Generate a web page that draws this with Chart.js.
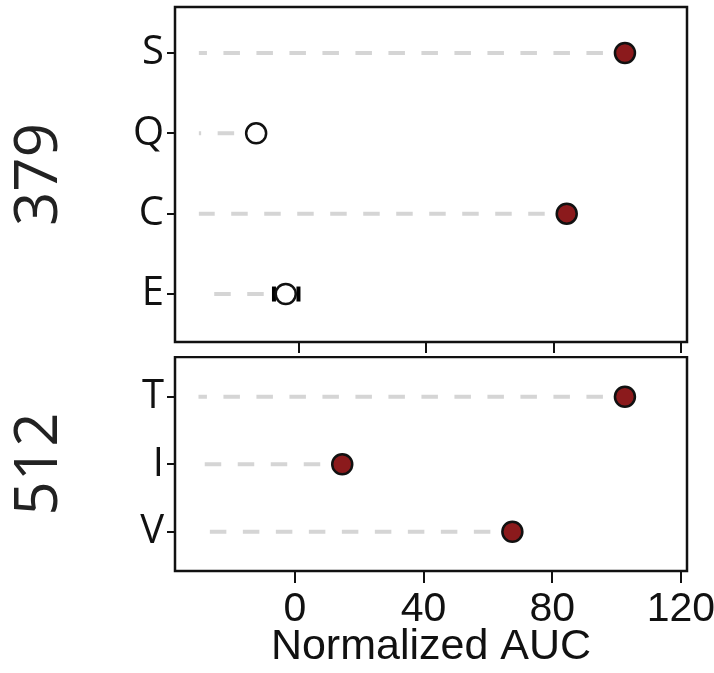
<!DOCTYPE html>
<html>
<head>
<meta charset="utf-8">
<title>Normalized AUC</title>
<script src="https://cdn.jsdelivr.net/npm/chart.js@4.4.1/dist/chart.umd.min.js"></script>
<style>
  body { margin: 0; background: #fff; }
  canvas { position: absolute; left: 0; }
  #panel379 { top: 0; }
  #panel512 { top: 356px; }
</style>
</head>
<body>
<canvas id="panel379" width="714" height="356"></canvas>
<canvas id="panel512" width="714" height="317"></canvas>
<script>
// position 379
const labels379 = ['S', 'Q', 'C', 'E'];
const auc379 = [102.4, -13.5, 84.1, -4.2];
const errLow379 = [null, null, null, -7.9];
const errHigh379 = [null, null, null, -0.2];
const filled379 = [true, false, true, false];

// position 512
const labels512 = ['T', 'I', 'V'];
const auc512 = [102.6, 14.7, 67.6];
const errLow512 = [null, null, null];
const errHigh512 = [null, null, null];
const filled512 = [true, true, true];

const xTicks = [0, 40, 80, 120];

const INK = '#111';
const RED = '#8b1a1c';

// box around the plotting area
const framePlugin = {
  id: 'frame',
  afterDraw(chart) {
    const { ctx, chartArea: a } = chart;
    ctx.save();
    ctx.strokeStyle = INK;
    ctx.lineWidth = 2.5;
    ctx.strokeRect(a.left, a.top, a.right - a.left, a.bottom - a.top);
    ctx.restore();
  }
};

// error bars drawn just before the markers so the circles sit on top
function errorBars(low, high) {
  return {
    id: 'errorBars',
    beforeDatasetDraw(chart, args) {
      if (args.index !== 0) return;
      const { ctx } = chart;
      const xs = chart.scales.x, ys = chart.scales.y;
      ctx.save();
      ctx.strokeStyle = '#000';
      low.forEach((lo, i) => {
        if (lo == null) return;
        const x0 = xs.getPixelForValue(lo);
        const x1 = xs.getPixelForValue(high[i]);
        const py = ys.getPixelForValue(i);
        ctx.lineWidth = 2.5;
        ctx.beginPath();
        ctx.moveTo(x0, py);
        ctx.lineTo(x1, py);
        ctx.stroke();
        ctx.lineWidth = 4;
        [x0, x1].forEach(px => {
          ctx.beginPath();
          ctx.moveTo(px, py - 7.5);
          ctx.lineTo(px, py + 7.5);
          ctx.stroke();
        });
      });
      ctx.restore();
    }
  };
}

// fixed axis sizes, and no extra room for half-labels at the ends
function fixWidth(w) {
  return s => {
    s.width = w;
    s.paddingTop = 0;
    s.paddingBottom = 0;
  };
}
function fixHeight(h) {
  return s => {
    s.height = h;
    s.paddingLeft = 0;
    s.paddingRight = 0;
  };
}

function buildPanel(id, p) {
  const markers = {
    data: p.values.map((v, i) => ({ x: v, y: i })),
    pointRadius: 10,
    pointHoverRadius: 10,
    pointBorderWidth: 2.5,
    pointBorderColor: INK,
    pointBackgroundColor: p.filled.map(f => f ? RED : '#fff'),
    order: 0
  };
  // dashed stems run from the marker back to the left
  const stems = p.values.map((v, i) => ({
    data: [{ x: v, y: i }, { x: p.stemStart, y: i }],
    showLine: true,
    borderColor: '#d5d5d5',
    borderWidth: 4,
    borderDash: [16.5, 16.5],
    borderDashOffset: 11,
    pointRadius: 0,
    order: 1
  }));

  return new Chart(document.getElementById(id), {
    type: 'scatter',
    data: { datasets: [markers, ...stems] },
    options: {
      responsive: false,
      animation: false,
      events: [],
      layout: { autoPadding: false, padding: { top: p.padTop, right: 27, bottom: 0, left: 0 } },
      plugins: { legend: { display: false }, tooltip: { enabled: false } },
      scales: {
        x: {
          type: 'linear',
          min: p.xMin,
          max: p.xMax,
          afterBuildTicks: s => { s.ticks = xTicks.map(v => ({ value: v })); },
          afterFit: fixHeight(p.xAxisHeight),
          border: { display: false },
          grid: { drawOnChartArea: false, color: INK, tickColor: INK, lineWidth: 2, tickLength: p.xTickLen },
          ticks: {
            display: p.showX,
            color: INK,
            padding: 2,
            font: { family: 'Liberation Sans, Arial, sans-serif', size: 41 },
            callback: v => String(v)
          },
          title: {
            display: p.showX,
            text: 'Normalized AUC',
            color: INK,
            padding: { top: 0, bottom: 0 },
            font: { family: 'Liberation Sans, Arial, sans-serif', size: 43 }
          }
        },
        y: {
          type: 'linear',
          reverse: true,
          min: p.yMin,
          max: p.yMax,
          afterBuildTicks: s => { s.ticks = p.labels.map((_, i) => ({ value: i })); },
          afterFit: fixWidth(175),
          border: { display: false },
          grid: { drawOnChartArea: false, color: INK, tickColor: INK, lineWidth: 2, tickLength: 8 },
          ticks: {
            color: INK,
            padding: 3,
            font: { family: 'Open Sans, sans-serif', size: 40 },
            callback: v => p.labels[v]
          },
          title: {
            display: true,
            text: p.group,
            color: '#222',
            padding: { top: 4, bottom: 0 },
            font: { family: 'Open Sans, sans-serif', size: 60 }
          }
        }
      }
    },
    plugins: [framePlugin, errorBars(p.errLow, p.errHigh)]
  });
}

buildPanel('panel379', {
  group: '379',
  labels: labels379,
  values: auc379,
  filled: filled379,
  errLow: errLow379,
  errHigh: errHigh379,
  stemStart: -31.5,
  xMin: -39, xMax: 121.9,
  yMin: -0.572, yMax: 3.597,
  padTop: 7,
  xAxisHeight: 14,
  xTickLen: 11,
  showX: false
});

buildPanel('panel512', {
  group: '512',
  labels: labels512,
  values: auc512,
  filled: filled512,
  errLow: errLow512,
  errHigh: errHigh512,
  stemStart: -30,
  xMin: -37.3, xMax: 121.9,
  yMin: -0.588, yMax: 2.582,
  padTop: 1,
  xAxisHeight: 102,
  xTickLen: 12,
  showX: true
});
</script>
</body>
</html>
